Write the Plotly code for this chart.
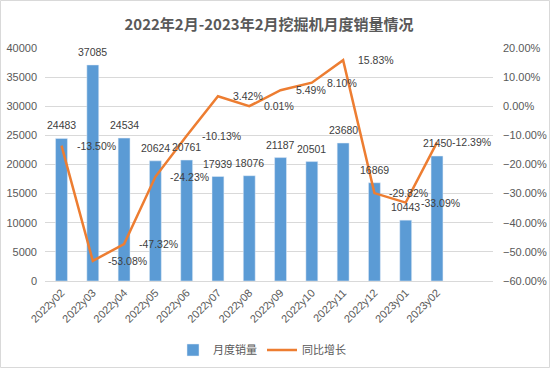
import plotly.graph_objects as go

months = ["2022y02", "2022y03", "2022y04", "2022y05", "2022y06", "2022y07", "2022y08",
          "2022y09", "2022y10", "2022y11", "2022y12", "2023y01", "2023y02"]
sales = [24483, 37085, 24534, 20624, 20761, 17939, 18076, 21187, 20501, 23680, 16869, 10443, 21450]
yoy = [-13.50, -53.08, -47.32, -24.23, -10.13, 3.42, 0.01, 5.49, 8.10, 15.83, -29.82, -33.09, -12.39]

yoy_frac = [v / 100 for v in yoy]
yoy_text = ["%.2f%%" % v for v in yoy]

BLUE = "#5B9BD5"
ORANGE = "#ED7D31"
TXT = "#404040"
FONT = "Noto Sans CJK SC, Liberation Sans, sans-serif"
TICKFONT = "Liberation Sans, sans-serif"
LBL = 10.5

fig = go.Figure()
fig.add_trace(go.Bar(
    x=months, y=sales, name="月度销量", marker_color=BLUE,
))
fig.add_trace(go.Scatter(
    x=months, y=yoy_frac, name="同比增长", yaxis="y2", mode="lines",
    line=dict(color=ORANGE, width=2.5),
))

for m, s in zip(months, sales):
    fig.add_annotation(x=m, y=s, xref="x", yref="y", text=str(s), showarrow=False,
                       xanchor="center", yanchor="bottom", yshift=5,
                       font=dict(size=LBL, color=TXT, family=TICKFONT))

for m, v, t in zip(months, yoy_frac, yoy_text):
    fig.add_annotation(x=m, y=v, xref="x", yref="y2", text=t, showarrow=False,
                       xanchor="left", yanchor="middle", xshift=13,
                       font=dict(size=LBL, color=TXT, family=TICKFONT))

W, H = 550, 368
ml, mr, mt, mb = 45, 57, 48, 87
pw, ph = W - ml - mr, H - mt - mb

fig.update_layout(
    width=W, height=H,
    margin=dict(l=ml, r=mr, t=mt, b=mb, autoexpand=False),
    paper_bgcolor="white", plot_bgcolor="white",
    title=dict(text="<b>2022年2月-2023年2月挖掘机月度销量情况</b>", x=0.5, xanchor="center",
               xref="paper", y=1 - 25 / H, yanchor="middle",
               font=dict(size=15, color="#595959", family=FONT)),
    bargap=0.62,
    showlegend=True,
    legend=dict(orientation="h", x=(262 - ml) / pw, xanchor="center",
                y=(H - mb - 350) / ph, yanchor="middle",
                font=dict(size=11, color="#595959", family=FONT),
                itemwidth=30, tracegroupgap=0),
    xaxis=dict(tickangle=-45, tickfont=dict(size=11, color="#595959", family=TICKFONT),
               showline=True, linecolor="#d9d9d9", ticks="", showgrid=False, automargin=False),
    yaxis=dict(range=[0, 40000], dtick=5000, tickformat="d", showgrid=True, gridcolor="#d9d9d9",
               tickfont=dict(size=11, color="#595959", family=TICKFONT), ticklabelstandoff=7,
               zeroline=False, automargin=False),
    yaxis2=dict(range=[-0.6, 0.2], dtick=0.1, tickformat=".2%", overlaying="y", side="right",
                showgrid=False, zeroline=False, automargin=False,
                tickfont=dict(size=11, color="#595959", family=TICKFONT), ticklabelstandoff=9),
)

fig.add_shape(type="rect", xref="paper", yref="paper",
              x0=(-ml + 0.5) / pw, x1=(W - ml - 0.5) / pw,
              y0=(-mb + 0.5) / ph, y1=(H - mb - 0.5) / ph,
              line=dict(color="#d9d9d9", width=1), fillcolor="rgba(0,0,0,0)", layer="below")

fig.write_html("out.html", config={"displayModeBar": False},
               post_script="document.body.style.margin='0';document.body.style.overflow='hidden';")
